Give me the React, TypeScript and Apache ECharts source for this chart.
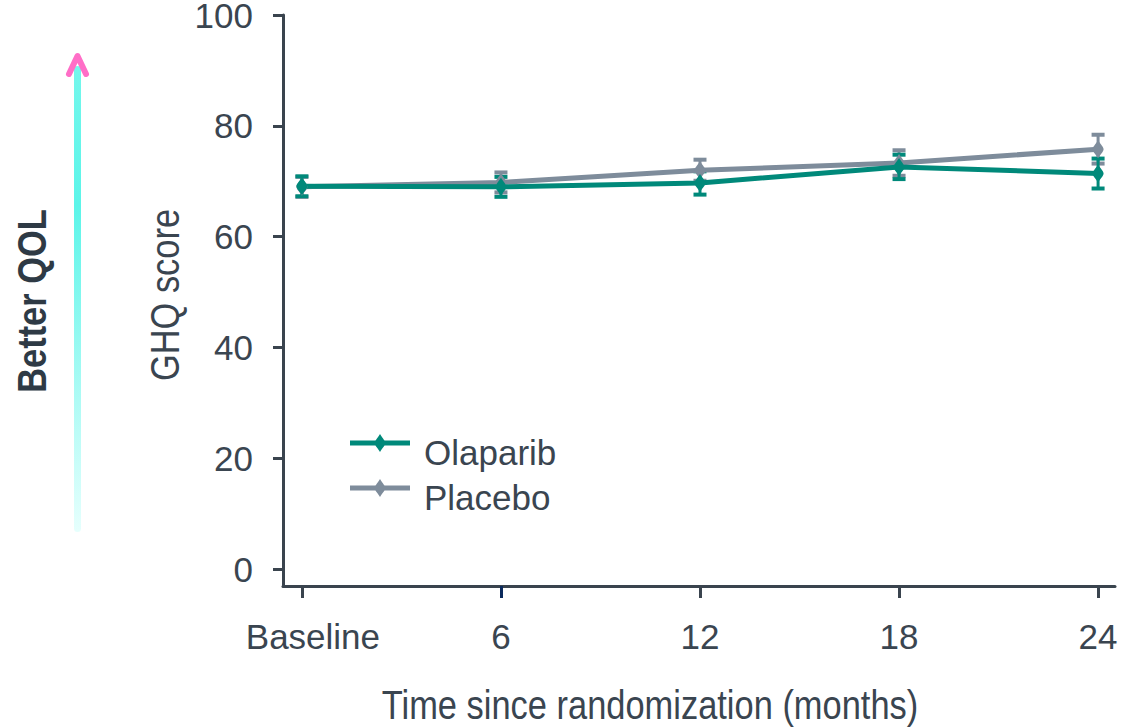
import React, { useEffect, useRef } from "react";
import * as echarts from "echarts";

const months = [0, 6, 12, 18, 24];
const olaparib = [69.1, 69.0, 69.7, 72.6, 71.4];
const olaparibErr = [1.8, 1.8, 2.1, 2.2, 2.7];
const placebo = [69.0, 69.8, 72.0, 73.3, 75.8];
const placeboErr = [1.8, 1.8, 1.9, 2.3, 2.6];
const yTicks = [0, 20, 40, 60, 80, 100];
const xTickLabels = ["Baseline", "6", "12", "18", "24"];

const FONT = "'Liberation Sans Narrow', 'Arial Narrow', 'Liberation Sans', Arial, sans-serif";
const TEXT = "#3A4550";
const AXIS = "#3A444E";
const TEAL = "#00897A";
const GREY = "#7E8C9B";
const MARK = "path://M5,0 C8,5 10,7 10,9 C10,11 8,13 5,18 C2,13 0,11 0,9 C0,7 2,5 5,0Z";
const LEGEND_ICON =
  "path://M0,6.5 L60,6.5 L60,11.5 L0,11.5 Z M30,0 C33,5 35.5,7 35.5,9 C35.5,11 33,13 30,18 C27,13 24.5,11 24.5,9 C24.5,7 27,5 30,0 Z M0,36 L0.01,36 L0.01,35.99 Z";
const LBL = 35;
const SX = 0.84;

function errSeries(vals: number[], errs: number[], color: string) {
  return {
    type: "custom",
    xAxisIndex: 0,
    yAxisIndex: 0,
    data: months.map((m, i) => [m, vals[i] - errs[i], vals[i] + errs[i]]),
    renderItem: (params: any, api: any) => {
      const x = api.value(0);
      const lo = api.coord([x, api.value(1)]);
      const hi = api.coord([x, api.value(2)]);
      const hw = 6.5;
      return {
        type: "group",
        children: [
          { type: "line", shape: { x1: lo[0], y1: lo[1], x2: hi[0], y2: hi[1] }, style: { stroke: color, lineWidth: 3 } },
          { type: "rect", shape: { x: hi[0] - hw, y: hi[1] - 2, width: hw * 2, height: 4 }, style: { fill: color } },
          { type: "rect", shape: { x: lo[0] - hw, y: lo[1] - 2, width: hw * 2, height: 4 }, style: { fill: color } },
        ],
      };
    },
    silent: true,
  };
}

export default function App() {
  const ref = useRef<HTMLDivElement>(null);
  useEffect(() => {
    const chart = echarts.init(ref.current!, null, { renderer: "svg" });
    chart.setOption({
      animation: false,
      backgroundColor: "#ffffff",
      textStyle: { fontFamily: FONT },
      grid: { left: 283, right: 9, top: 15, bottom: 142, containLabel: false, outerBoundsMode: "none" },
      legend: {
        left: 350,
        top: 434,
        padding: 0,
        orient: "vertical",
        data: [
          { name: "Olaparib", icon: LEGEND_ICON },
          { name: "Placebo", icon: LEGEND_ICON },
        ],
        itemWidth: 60,
        itemHeight: 36,
        itemGap: 9,
        itemStyle: { borderWidth: 0 },
        textStyle: { fontFamily: FONT, fontSize: LBL, color: TEXT, padding: [0, 0, 0, 9], lineHeight: 36 },
      },
      xAxis: [
        {
          type: "value",
          min: -0.57,
          max: 24.51,
          axisLine: { show: true, onZero: false, lineStyle: { color: AXIS, width: 3 } },
          axisTick: { show: true, length: 12, lineStyle: { color: AXIS, width: 3 }, customValues: months },
          axisLabel: {
            customValues: months,
            margin: 33,
            fontFamily: FONT,
            fontSize: LBL,
            color: TEXT,
            formatter: (v: number) => (v === 0 ? "{b|" + xTickLabels[0] + "}" : xTickLabels[months.indexOf(v)] ?? String(v)),
            rich: { b: { fontFamily: FONT, fontSize: LBL, color: TEXT, padding: [0, 0, 0, 22] } },
          },
          splitLine: { show: false },
        },
        {
          type: "value",
          position: "bottom",
          min: -0.57,
          max: 24.51,
          axisLine: { show: false, onZero: false },
          axisTick: { show: true, length: 12, lineStyle: { color: "#0B2A5C", width: 3 }, customValues: [6] },
          axisLabel: { show: false },
          splitLine: { show: false },
        },
      ],
      yAxis: {
        type: "value",
        min: -3,
        max: 100,
        axisLine: { show: true, onZero: false, lineStyle: { color: AXIS, width: 3 } },
        axisTick: { show: true, length: 10, lineStyle: { color: AXIS, width: 3 }, customValues: yTicks },
        axisLabel: { customValues: yTicks, margin: 30, fontFamily: FONT, fontSize: LBL, color: TEXT, lineHeight: 22, padding: [8, 0, 0, 0] },
        splitLine: { show: false },
      },
      graphic: [
        {
          type: "rect",
          shape: { x: 74, y: 66, width: 7, height: 466, r: 3.5 },
          style: {
            fill: new echarts.graphic.LinearGradient(0, 0, 0, 1, [
              { offset: 0, color: "#74F7EC" },
              { offset: 0.3, color: "#5CF5E9" },
              { offset: 1, color: "#E6FFFD" },
            ]),
          },
        },
        {
          type: "polyline",
          shape: { points: [[69, 74], [77.5, 56], [86, 74]] },
          style: { stroke: "#FF6EC7", lineWidth: 6, lineCap: "round", lineJoin: "round", fill: "none" },
        },
        {
          type: "text",
          x: 32,
          y: 301,
          rotation: Math.PI / 2,
          scaleX: SX,
          style: { text: "Better QOL", fontFamily: FONT, fontWeight: "bold", fontSize: 41, fill: "#2E3A45", align: "center", verticalAlign: "middle" },
        },
        {
          type: "text",
          x: 165,
          y: 295,
          rotation: Math.PI / 2,
          scaleX: SX,
          style: { text: "GHQ score", fontFamily: FONT, fontSize: 41, fill: TEXT, align: "center", verticalAlign: "middle" },
        },
        {
          type: "text",
          x: 650,
          y: 705,
          scaleX: SX,
          style: { text: "Time since randomization (months)", fontFamily: FONT, fontSize: 41, fill: TEXT, align: "center", verticalAlign: "middle" },
        },
      ],
      series: [
        errSeries(placebo, placeboErr, GREY),
        {
          name: "Placebo",
          type: "line",
          xAxisIndex: 0,
          data: months.map((m, i) => [m, placebo[i]]),
          symbol: MARK,
          symbolSize: [11, 18],
          lineStyle: { color: GREY, width: 5 },
          itemStyle: { color: GREY },
        },
        errSeries(olaparib, olaparibErr, TEAL),
        {
          name: "Olaparib",
          type: "line",
          xAxisIndex: 0,
          data: months.map((m, i) => [m, olaparib[i]]),
          symbol: MARK,
          symbolSize: [11, 18],
          lineStyle: { color: TEAL, width: 5 },
          itemStyle: { color: TEAL },
        },
      ],
    });
    return () => chart.dispose();
  }, []);
  return <div ref={ref} style={{ position: "fixed", left: 0, top: 0, width: 1124, height: 728 }} />;
}
